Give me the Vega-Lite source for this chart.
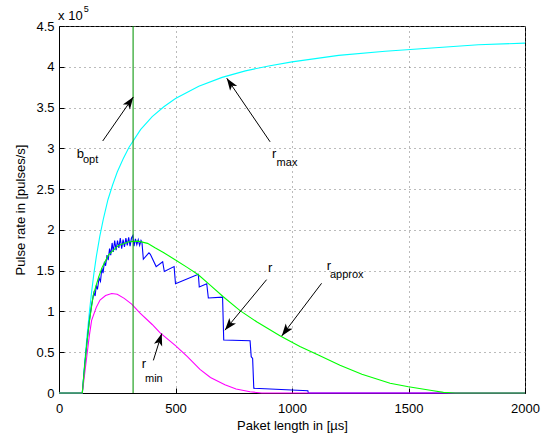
{
  "$schema": "https://vega.github.io/schema/vega-lite/v6.json",
  "width": 466,
  "height": 367,
  "autosize": "none",
  "padding": {"left": 59, "top": 26, "right": 30, "bottom": 43},
  "datasets": {
    "rmax": [
      {"x":0,"y":0},{"x":100,"y":0},{"x":110,"y":36000},{"x":120,"y":69000},{"x":130,"y":98000},{"x":140,"y":124000},{"x":150,"y":147000},{"x":160,"y":167000},{"x":175,"y":192000},{"x":190,"y":213000},{"x":210,"y":237000},{"x":230,"y":255000},{"x":250,"y":271000},{"x":275,"y":287000},{"x":300,"y":301000},{"x":350,"y":323000},{"x":400,"y":339000},{"x":450,"y":351000},{"x":500,"y":361000},{"x":600,"y":376000},{"x":700,"y":387000},{"x":800,"y":395000},{"x":900,"y":401000},{"x":1000,"y":406000},{"x":1200,"y":414000},{"x":1400,"y":419000},{"x":1600,"y":423000},{"x":1800,"y":427000},{"x":2000,"y":429000}
    ],
    "rapprox": [
      {"x":0,"y":0},{"x":100,"y":0},{"x":110,"y":33000},{"x":120,"y":62000},{"x":130,"y":87000},{"x":147,"y":120000},{"x":170,"y":142000},{"x":185,"y":154000},{"x":212,"y":169000},{"x":255,"y":181000},{"x":300,"y":185500},{"x":340,"y":186200},{"x":380,"y":183500},{"x":412,"y":178000},{"x":450,"y":172000},{"x":500,"y":163000},{"x":550,"y":154000},{"x":598,"y":145000},{"x":650,"y":132000},{"x":705,"y":118000},{"x":777,"y":101000},{"x":850,"y":87000},{"x":950,"y":70000},{"x":1034,"y":57000},{"x":1113,"y":46600},{"x":1206,"y":34000},{"x":1300,"y":23000},{"x":1421,"y":12000},{"x":1500,"y":7700},{"x":1600,"y":3000},{"x":1650,"y":800},{"x":1700,"y":0},{"x":2000,"y":0}
    ],
    "rmin": [
      {"x":0,"y":0},{"x":100,"y":0},{"x":104,"y":9000},{"x":112,"y":28000},{"x":119,"y":44500},{"x":130,"y":70000},{"x":140,"y":89000},{"x":160,"y":105000},{"x":176,"y":114000},{"x":200,"y":119500},{"x":226,"y":122000},{"x":250,"y":121000},{"x":280,"y":116000},{"x":312,"y":109000},{"x":348,"y":98000},{"x":400,"y":84000},{"x":433,"y":74000},{"x":500,"y":58000},{"x":550,"y":45000},{"x":605,"y":29000},{"x":650,"y":19000},{"x":712,"y":10000},{"x":760,"y":5000},{"x":820,"y":1500},{"x":870,"y":0},{"x":2000,"y":0}
    ],
    "r": [
      {"x":0,"y":0},{"x":100,"y":0},{"x":110,"y":33000},{"x":120,"y":62000},{"x":130,"y":88000},{"x":140,"y":108000},{"x":150,"y":123000},{"x":155,"y":119000},{"x":160,"y":132000},{"x":165,"y":127000},{"x":172,"y":141000},{"x":178,"y":137000},{"x":184,"y":153000},{"x":189,"y":147000},{"x":195,"y":161000},{"x":200,"y":156000},{"x":206,"y":169000},{"x":211,"y":163000},{"x":217,"y":177000},{"x":222,"y":169000},{"x":228,"y":184000},{"x":233,"y":173000},{"x":239,"y":187000},{"x":245,"y":175000},{"x":251,"y":187000},{"x":257,"y":178000},{"x":263,"y":190000},{"x":269,"y":177000},{"x":275,"y":188000},{"x":281,"y":179000},{"x":287,"y":190000},{"x":293,"y":181000},{"x":299,"y":191000},{"x":305,"y":180000},{"x":311,"y":190000},{"x":317,"y":193000},{"x":322,"y":180000},{"x":328,"y":189000},{"x":334,"y":182000},{"x":340,"y":188000},{"x":346,"y":181000},{"x":352,"y":187000},{"x":356,"y":185000},{"x":362,"y":164000},{"x":386,"y":172000},{"x":392,"y":170000},{"x":417,"y":155000},{"x":445,"y":161000},{"x":452,"y":149000},{"x":494,"y":155000},{"x":500,"y":134000},{"x":598,"y":145500},{"x":602,"y":130000},{"x":634,"y":134000},{"x":641,"y":116500},{"x":702,"y":117500},{"x":707,"y":65000},{"x":820,"y":64000},{"x":825,"y":44500},{"x":831,"y":42500},{"x":836,"y":5800},{"x":1068,"y":2800},{"x":1070,"y":0},{"x":2000,"y":0}
    ],
    "bopt": [{"x":318}],
    "arrows": [
      {"name":"bopt","x":319,"y":363000,"x2":187.6,"y2":309000},
      {"name":"rmax","x":720,"y":386000,"x2":906,"y2":308000},
      {"name":"r","x":712,"y":77000,"x2":891,"y2":139000},
      {"name":"rapprox","x":956,"y":70000,"x2":1127,"y2":134500},
      {"name":"rmin","x":441,"y":73000,"x2":405,"y2":40000}
    ],
    "labels": [
      {"x":76,"y":288000,"text":"b"},
      {"x":914,"y":288000,"text":"r"},
      {"x":897,"y":148000,"text":"r"},
      {"x":1149,"y":151000,"text":"r"},
      {"x":355,"y":30600,"text":"r"},
      {"x":-4,"y":457000,"text":"x 10"}
    ],
    "subs": [
      {"x":103,"y":281500,"text":"opt"},
      {"x":934,"y":278000,"text":"max"},
      {"x":1163,"y":141500,"text":"approx"},
      {"x":369,"y":13500,"text":"min"}
    ],
    "sup": [{"x":106,"y":467000,"text":"5"}]
  },
  "encoding": {
    "x": {"field":"x","type":"quantitative","scale":{"domain":[0,2000],"nice":false,"zero":false},
      "axis":{"values":[0,500,1000,1500,2000],"format":"d","grid":true,"title":"Paket length in [µs]","tickSize":-5,"labelPadding":14,"titlePadding":4,"labelFlush":false}},
    "y": {"field":"y","type":"quantitative","scale":{"domain":[0,450000],"nice":false,"zero":false},
      "axis":{"values":[0,50000,100000,150000,200000,250000,300000,350000,400000,450000],"grid":true,"title":"Pulse rate in [pulses/s]","labelExpr":"datum.value/100000","tickSize":-5,"labelPadding":10,"titlePadding":8}}
  },
  "layer": [
    {"data":{"name":"rmax"},"mark":{"type":"line","color":"#00ffff","strokeWidth":1.1}},
    {"data":{"name":"r"},"mark":{"type":"line","color":"#0000ff","strokeWidth":1.1}},
    {"data":{"name":"rmin"},"mark":{"type":"line","color":"#ff00ff","strokeWidth":1.1}},
    {"data":{"name":"rapprox"},"mark":{"type":"line","color":"#00ff00","strokeWidth":1.1}},
    {"data":{"name":"bopt"},"mark":{"type":"rule","color":"#119a11","strokeWidth":1.1},"encoding":{"x":{"field":"x","type":"quantitative"},"y":null}},
    {"data":{"name":"arrows"},"mark":{"type":"rule","color":"#000","strokeWidth":1},"encoding":{"x2":{"field":"x2"},"y2":{"field":"y2"}}},
    {"data":{"name":"arrows"},"transform":[{"filter":"datum.name==='bopt'"}],"mark":{"type":"point","filled":true,"color":"#000","opacity":1,"size":150,"angle":34.6,"shape":"M0,0L0.7,2L0,1.5L-0.7,2Z"}},
    {"data":{"name":"arrows"},"transform":[{"filter":"datum.name==='rmax'"}],"mark":{"type":"point","filled":true,"color":"#000","opacity":1,"size":150,"angle":325.7,"shape":"M0,0L0.7,2L0,1.5L-0.7,2Z"}},
    {"data":{"name":"arrows"},"transform":[{"filter":"datum.name==='r'"}],"mark":{"type":"point","filled":true,"color":"#000","opacity":1,"size":150,"angle":219.4,"shape":"M0,0L0.7,2L0,1.5L-0.7,2Z"}},
    {"data":{"name":"arrows"},"transform":[{"filter":"datum.name==='rapprox'"}],"mark":{"type":"point","filled":true,"color":"#000","opacity":1,"size":150,"angle":217.2,"shape":"M0,0L0.7,2L0,1.5L-0.7,2Z"}},
    {"data":{"name":"arrows"},"transform":[{"filter":"datum.name==='rmin'"}],"mark":{"type":"point","filled":true,"color":"#000","opacity":1,"size":150,"angle":17.5,"shape":"M0,0L0.7,2L0,1.5L-0.7,2Z"}},
    {"data":{"name":"labels"},"mark":{"type":"text","align":"left","baseline":"alphabetic","fontSize":13,"color":"#000"},"encoding":{"text":{"field":"text"}}},
    {"data":{"name":"subs"},"mark":{"type":"text","align":"left","baseline":"alphabetic","fontSize":11,"color":"#000"},"encoding":{"text":{"field":"text"}}},
    {"data":{"name":"sup"},"mark":{"type":"text","align":"left","baseline":"alphabetic","fontSize":9,"color":"#000"},"encoding":{"text":{"field":"text"}}}
  ],
  "config": {
    "view": {"stroke":"#000","strokeWidth":1},
    "axis": {"domainColor":"#000","tickColor":"#000","labelFont":"Liberation Sans","labelFontSize":13,"labelColor":"#000","titleFont":"Liberation Sans","titleFontSize":13,"titleFontWeight":"normal","titleColor":"#000","gridColor":"#777","gridDash":[1,4],"gridOpacity":1,"gridWidth":1},
    "text": {"font":"Liberation Sans"}
  }
}
